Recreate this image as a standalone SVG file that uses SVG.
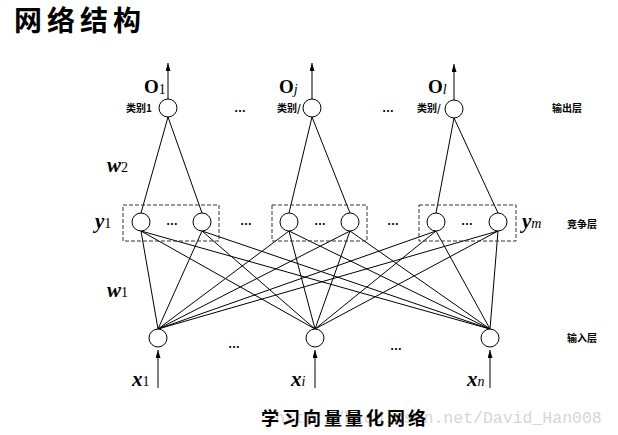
<svg xmlns="http://www.w3.org/2000/svg" width="618" height="435" viewBox="0 0 618 435">
<defs>
<marker id="ah" viewBox="0 0 8 5" refX="8" refY="2.5" markerWidth="8" markerHeight="5" orient="auto" markerUnits="userSpaceOnUse">
<path d="M0,0 L8,2.5 L0,5 Z" fill="#000"/>
</marker>
</defs>
<style>
.n{fill:#fff;stroke:#000;stroke-width:1}
.c line{stroke:#000;stroke-width:1}
.box{fill:none;stroke:#333;stroke-width:1;stroke-dasharray:4,2}
.cjk{font-family:"Noto Sans CJK SC",sans-serif;font-weight:bold;fill:#000}
.sm{font-size:10px}
.tm{font-family:"Liberation Serif",serif;fill:#000}
.v{font-weight:bold;font-style:italic;font-size:21px}
.sub{font-size:14px;font-weight:normal;font-style:normal}
.it{font-style:italic}
.dots{font-family:"Liberation Sans",sans-serif;font-weight:bold;font-size:12px;fill:#000}
</style>
<rect width="618" height="435" fill="#fff"/>
<text x="14" y="31" class="cjk" font-size="28" letter-spacing="5">网络结构</text>

<g class="c" id="connectors">
<line x1="168" y1="99" x2="168" y2="63" marker-end="url(#ah)"/>
<line x1="312" y1="99" x2="312" y2="63" marker-end="url(#ah)"/>
<line x1="454" y1="100" x2="454" y2="64" marker-end="url(#ah)"/>
<line x1="158" y1="388" x2="158" y2="350" marker-end="url(#ah)"/>
<line x1="315" y1="388" x2="315" y2="350" marker-end="url(#ah)"/>
<line x1="490" y1="388" x2="490" y2="350" marker-end="url(#ah)"/>
<line x1="168" y1="117" x2="141" y2="213"/>
<line x1="168" y1="117" x2="202" y2="213"/>
<line x1="312" y1="117" x2="289" y2="213"/>
<line x1="312" y1="117" x2="350" y2="213"/>
<line x1="454" y1="118" x2="436" y2="213"/>
<line x1="454" y1="118" x2="498" y2="213"/>
<line x1="158" y1="329" x2="141" y2="231"/>
<line x1="158" y1="329" x2="202" y2="231"/>
<line x1="158" y1="329" x2="289" y2="231"/>
<line x1="158" y1="329" x2="350" y2="231"/>
<line x1="158" y1="329" x2="436" y2="231"/>
<line x1="158" y1="329" x2="498" y2="231"/>
<line x1="315" y1="329" x2="141" y2="231"/>
<line x1="315" y1="329" x2="202" y2="231"/>
<line x1="315" y1="329" x2="289" y2="231"/>
<line x1="315" y1="329" x2="350" y2="231"/>
<line x1="315" y1="329" x2="436" y2="231"/>
<line x1="315" y1="329" x2="498" y2="231"/>
<line x1="490" y1="329" x2="141" y2="231"/>
<line x1="490" y1="329" x2="202" y2="231"/>
<line x1="490" y1="329" x2="289" y2="231"/>
<line x1="490" y1="329" x2="350" y2="231"/>
<line x1="490" y1="329" x2="436" y2="231"/>
<line x1="490" y1="329" x2="498" y2="231"/>
</g>

<rect class="box" x="123" y="205" width="96" height="36"/>
<rect class="box" x="272" y="205" width="95" height="36"/>
<rect class="box" x="419" y="205" width="97" height="36"/>

<g id="out1"><circle class="n" cx="168" cy="108" r="9"/><text x="126" y="112" class="cjk sm">类别1</text></g>
<g id="outj"><circle class="n" cx="312" cy="108" r="9"/><text x="277" y="112" class="cjk sm">类别/</text></g>
<g id="outl"><circle class="n" cx="454" cy="109" r="9"/><text x="417" y="112" class="cjk sm">类别/</text></g>

<g id="c1"><circle class="n" cx="141" cy="222" r="9"/></g>
<g id="c2"><circle class="n" cx="202" cy="222" r="9"/></g>
<g id="c3"><circle class="n" cx="289" cy="222" r="9"/></g>
<g id="c4"><circle class="n" cx="350" cy="222" r="9"/></g>
<g id="c5"><circle class="n" cx="436" cy="222" r="9"/></g>
<g id="c6"><circle class="n" cx="498" cy="222" r="9"/></g>

<g id="in1"><circle class="n" cx="158" cy="338" r="9"/></g>
<g id="ini"><circle class="n" cx="315" cy="338" r="9"/></g>
<g id="inn"><circle class="n" cx="490" cy="338" r="9"/></g>

<g id="labels">
<text x="144" y="93" class="tm" font-size="19" font-weight="bold">O<tspan class="sub" dy="1">1</tspan></text>
<text x="279" y="93" class="tm" font-size="19" font-weight="bold">O<tspan class="sub it" dy="1">j</tspan></text>
<text x="428" y="93" class="tm" font-size="19" font-weight="bold">O<tspan class="sub it" dy="1">l</tspan></text>

<text x="107" y="172" class="tm v">w<tspan class="sub">2</tspan></text>
<text x="107" y="297" class="tm v">w<tspan class="sub">1</tspan></text>
<text x="95" y="228" class="tm v">y<tspan class="sub">1</tspan></text>
<text x="522" y="228" class="tm v">y<tspan class="sub it">m</tspan></text>
<text x="132" y="386" class="tm v">x<tspan class="sub">1</tspan></text>
<text x="291" y="386" class="tm v">x<tspan class="sub it">i</tspan></text>
<text x="467" y="386" class="tm v">x<tspan class="sub it">n</tspan></text>

<text x="552" y="112" class="cjk sm">输出层</text>
<text x="567" y="228" class="cjk sm">竞争层</text>
<text x="567" y="342" class="cjk sm">输入层</text>

<text x="240" y="112" class="dots" text-anchor="middle">…</text>
<text x="388" y="112" class="dots" text-anchor="middle">…</text>
<text x="172" y="225" class="dots" text-anchor="middle">…</text>
<text x="320" y="225" class="dots" text-anchor="middle">…</text>
<text x="467" y="225" class="dots" text-anchor="middle">…</text>
<text x="246" y="225" class="dots" text-anchor="middle">…</text>
<text x="393" y="225" class="dots" text-anchor="middle">…</text>
<text x="234" y="348" class="dots" text-anchor="middle">…</text>
<text x="396" y="350" class="dots" text-anchor="middle">…</text>

<text x="275" y="423" font-family="Liberation Mono,monospace" font-size="16.5" fill="#d6d6d6">http://blog.csdn.net/David_Han008</text>
<text x="261" y="425" class="cjk" font-size="18" letter-spacing="3">学习向量量化网络</text>
</g>
</svg>
